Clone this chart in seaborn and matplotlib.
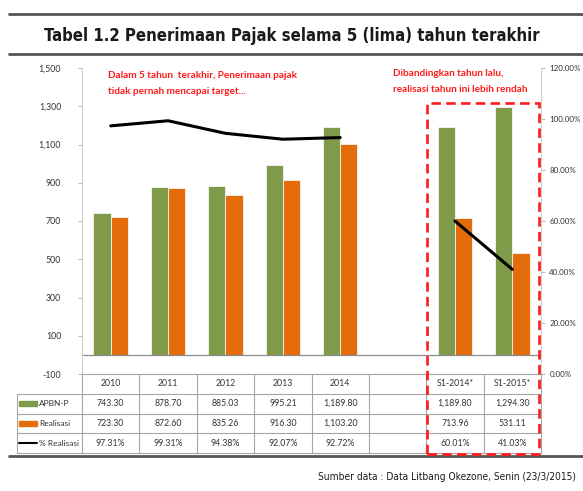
import numpy as np
import pandas as pd
import seaborn as sns
import matplotlib.pyplot as plt
from matplotlib import font_manager
from matplotlib.patches import Rectangle
from matplotlib.lines import Line2D

# data
kategori = ['2010', '2011', '2012', '2013', '2014', ' ', 'S1-2014*', 'S1-2015*']
apbn_p = [743.30, 878.70, 885.03, 995.21, 1189.80, np.nan, 1189.80, 1294.30]
realisasi = [723.30, 872.60, 835.26, 916.30, 1103.20, np.nan, 713.96, 531.11]
persen = [97.31, 99.31, 94.38, 92.07, 92.72, np.nan, 60.01, 41.03]
kelompok = [1, 1, 1, 1, 1, 0, 2, 2]

hijau = '#7F9A48'
oranye = '#E46C0A'
merah = '#FF1A1A'

sns.set_style('white')
plt.rcParams['font.family'] = ['Lato', 'DejaVu Sans']

# cari font condensed / narrow kalau ada
def cari_font(bold):
    for f in font_manager.fontManager.ttflist:
        nama = f.fname.lower()
        if ('condensed' in nama or 'narrow' in nama) and ('bold' in nama) == bold \
                and 'oblique' not in nama and 'italic' not in nama:
            return font_manager.FontProperties(fname=f.fname)
    return font_manager.FontProperties(family='Roboto', weight='bold' if bold else 'normal')

fp_judul = cari_font(True)
fp_sumber = cari_font(False)

df = pd.DataFrame({'kategori': kategori, 'APBN-P': apbn_p, 'Realisasi': realisasi})
df_long = df.melt(id_vars='kategori', var_name='seri', value_name='nilai').dropna()

W, H = 583, 491
fig = plt.figure(figsize=(W / 100, H / 100), dpi=100)

def fx(px):
    return px / W

def fy(py):
    return 1 - py / H

# area grafik utama
ax = fig.add_axes([fx(82), fy(374), fx(541) - fx(82), fy(68) - fy(374)])
sns.barplot(data=df_long, x='kategori', y='nilai', hue='seri', order=kategori,
            palette=[hijau, oranye], saturation=1, width=0.6, edgecolor='#f4f4f4',
            linewidth=0.6, legend=False, ax=ax)
ax.set_xlim(-0.5, 7.5)
ax.set_ylim(-100, 1500)
ax.set_yticks(np.arange(-100, 1501, 200))
ax.set_yticklabels([f'{v:,}' for v in range(-100, 1501, 200)], fontsize=6.3, color='#333333')
ax.set_xticks([])
ax.set_xlabel('')
ax.set_ylabel('')
ax.axhline(0, color='#8c8c8c', lw=0.9)
for s in ['top', 'right', 'bottom']:
    ax.spines[s].set_visible(False)
ax.spines['left'].set_color('#d0d0d0')
ax.tick_params(axis='y', length=3, color='#bbbbbb', pad=12)

# sumbu kanan untuk persen
ax2 = ax.twinx()
dl = pd.DataFrame({'pos': np.arange(len(kategori)), 'persen': np.array(persen) / 100,
                   'grp': kelompok}).dropna()
sns.lineplot(data=dl, x='pos', y='persen', units='grp', estimator=None,
             color='black', lw=2.2, ax=ax2)
ax2.set_xlim(-0.5, 7.5)
ax2.set_ylim(0, 1.2)
ax2.set_yticks(np.arange(0, 1.21, 0.2))
ax2.set_yticklabels([f'{v * 100:.2f}%' for v in np.arange(0, 1.21, 0.2)], fontsize=5.8, color='#333333')
ax2.set_xlabel('')
ax2.set_ylabel('')
for s in ['top', 'left', 'bottom']:
    ax2.spines[s].set_visible(False)
ax2.spines['right'].set_color('#d0d0d0')
ax2.tick_params(axis='y', length=3, color='#bbbbbb', pad=3)

# tabel data di bawah grafik
tx = fig.add_axes([fx(17), fy(453), fx(541) - fx(17), fy(374) - fy(453)])
kiri = -0.5 - (82 - 17) / ((541 - 82) / 8)
tx.set_xlim(kiri, 7.5)
tx.set_ylim(4, 0)
tx.axis('off')
garis = '#a6a6a6'
for r in [0, 1, 2, 3, 4]:
    x0 = -0.5 if r == 0 else kiri
    tx.plot([x0, 7.5], [r, r], color=garis, lw=0.8, clip_on=False)
for c in np.arange(-0.5, 7.6, 1):
    tx.plot([c, c], [0, 4], color=garis, lw=0.8, clip_on=False)
tx.plot([kiri, kiri], [1, 4], color=garis, lw=0.8, clip_on=False)

fs = 6.3
for i, k in enumerate(kategori):
    tx.text(i, 0.5, k.strip(), ha='center', va='center', fontsize=fs, color='#333333')
    if not np.isnan(apbn_p[i]):
        tx.text(i, 1.5, f'{apbn_p[i]:,.2f}', ha='center', va='center', fontsize=fs, color='#333333')
        tx.text(i, 2.5, f'{realisasi[i]:,.2f}', ha='center', va='center', fontsize=fs, color='#333333')
        tx.text(i, 3.5, f'{persen[i]:.2f}%', ha='center', va='center', fontsize=fs, color='#333333')

lx = kiri + 0.04
kunci = 0.31
tx.add_patch(Rectangle((lx, 1.38), kunci, 0.26, color=hijau, clip_on=False))
tx.add_patch(Rectangle((lx, 2.38), kunci, 0.26, color=oranye, clip_on=False))
tx.plot([lx, lx + kunci], [3.5, 3.5], color='black', lw=1.5, clip_on=False)
for r, lbl in zip([1.5, 2.5, 3.5], ['APBN-P', 'Realisasi', '% Realisasi']):
    tx.text(lx + kunci + 0.03, r, lbl, va='center', fontsize=6, color='#333333')

# kotak putus-putus merah
fig.patches.append(Rectangle((fx(427), fy(454)), fx(539) - fx(427), fy(103) - fy(454),
                             transform=fig.transFigure, fill=False, edgecolor=merah,
                             lw=1.9, linestyle=(0, (3.6, 2)), zorder=10))

# catatan merah
for (px, py, s) in [(108, 76, 'Dalam 5 tahun  terakhir, Penerimaan pajak'),
                    (108, 92, 'tidak pernah mencapai target...'),
                    (393, 73, 'Dibandingkan tahun lalu,'),
                    (393, 89, 'realisasi tahun ini lebih rendah')]:
    fig.text(fx(px), fy(py), s, color=merah, fontsize=7.2, va='center', fontweight='bold')

# judul dan garis
for py in [14, 54, 456]:
    fig.add_artist(Line2D([fx(9), 1], [fy(py), fy(py)], color='#555555', lw=2))
judul = fig.text(fx(292), fy(36), 'Tabel 1.2 Penerimaan Pajak selama 5 (lima) tahun terakhir',
                 ha='center', va='center', color='#1a1a1a', fontproperties=fp_judul)
sumber = fig.text(fx(576), fy(477), 'Sumber data : Data Litbang Okezone, Senin (23/3/2015)',
                  ha='right', va='center', color='#1a1a1a', fontproperties=fp_sumber)

# sesuaikan ukuran huruf agar lebarnya mendekati gambar acuan
judul.set_fontsize(14)
sumber.set_fontsize(9)
fig.canvas.draw()
r = fig.canvas.get_renderer()
for t, lebar in [(judul, 500), (sumber, 258)]:
    w = t.get_window_extent(r).width
    t.set_fontsize(t.get_fontsize() * lebar / w)

fig.savefig('out.png', dpi=100)
